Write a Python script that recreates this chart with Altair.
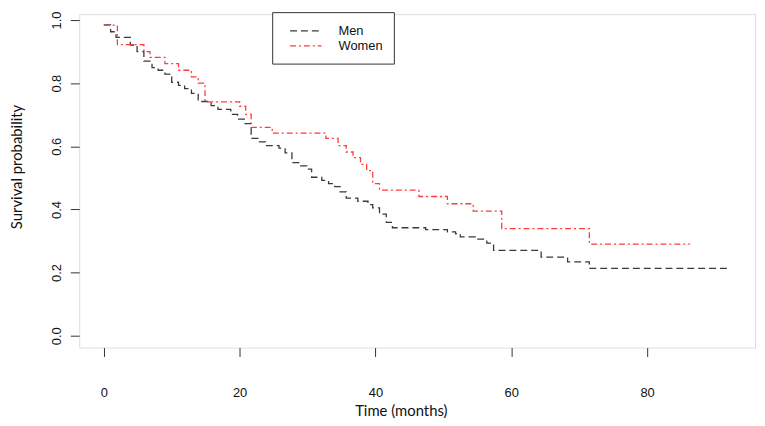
import altair as alt
import pandas as pd

# Kaplan-Meier step curves (time in months, survival probability)
men_time = [0, 1.0, 1.8, 3.9, 4.9, 5.9, 7.1, 8.0, 9.0, 10.0, 11.0, 11.9, 12.9, 13.9,
            15.8, 16.8, 18.7, 19.7, 20.7, 21.7, 22.7, 23.8, 25.8, 26.7, 27.7, 28.9,
            29.9, 30.6, 32.1, 33.1, 34.0, 34.8, 35.7, 37.4, 38.9, 39.6, 40.6, 41.6,
            42.5, 47.4, 50.6, 51.8, 52.5, 54.7, 56.4, 57.4, 64.4, 68.3, 71.5, 92.3]
men_surv = [0.985, 0.963, 0.945, 0.921, 0.900, 0.870, 0.849, 0.841, 0.829, 0.803, 0.793,
            0.783, 0.768, 0.742, 0.729, 0.717, 0.701, 0.686, 0.672, 0.625, 0.614, 0.602,
            0.594, 0.579, 0.548, 0.538, 0.528, 0.502, 0.492, 0.482, 0.472, 0.456, 0.436,
            0.426, 0.415, 0.405, 0.385, 0.359, 0.342, 0.336, 0.329, 0.323, 0.313, 0.306,
            0.293, 0.270, 0.249, 0.234, 0.213, 0.213]

women_time = [0, 2.0, 5.9, 6.8, 9.0, 11.0, 12.9, 13.9, 14.9, 20.0, 20.9, 21.7, 24.8,
              32.7, 34.5, 35.7, 36.7, 37.8, 38.7, 39.6, 40.6, 46.4, 50.6, 54.4, 58.6,
              71.5, 86.3]
women_surv = [0.984, 0.922, 0.900, 0.882, 0.862, 0.841, 0.820, 0.800, 0.741, 0.727,
              0.701, 0.660, 0.642, 0.625, 0.602, 0.582, 0.564, 0.543, 0.523, 0.482,
              0.461, 0.441, 0.418, 0.395, 0.339, 0.290, 0.290]

groups = ["Men", "Women"]
colors = ["#3a3a3a", "#ff3b3b"]
dashes = [[7, 4], [6, 3, 2, 3]]

x_ticks = [0, 20, 40, 60, 80]
y_ticks = [0.0, 0.2, 0.4, 0.6, 0.8, 1.0]

df = pd.concat([
    pd.DataFrame({"time": men_time, "surv": men_surv, "group": "Men", "order": range(len(men_time))}),
    pd.DataFrame({"time": women_time, "surv": women_surv, "group": "Women", "order": range(len(women_time))}),
])

legend = alt.Legend(
    title=None, orient="none", legendX=195, legendY=-2,
    strokeColor="#333333", fillColor="white", padding=11,
    symbolType="M-2.25,0H2.25", symbolSize=200, symbolStrokeWidth=1.3,
    symbolOffset=15, labelFont="Liberation Sans", labelFontSize=13,
    labelOffset=25, rowPadding=0, labelColor="#111111",
)

chart = alt.Chart(df).mark_line(interpolate="step-after", strokeWidth=1.3).encode(
    x=alt.X("time:Q",
            scale=alt.Scale(domain=[-3.62, 95.9], nice=False, zero=False),
            axis=alt.Axis(values=x_ticks, format="d", title="Time (months)",
                          grid=False, domain=False, ticks=True, tickSize=9,
                          tickColor="#333333", labelPadding=30, labelFontSize=13,
                          labelFont="Liberation Sans", labelColor="#111111",
                          titleFont="Lato", titleFontSize=15, titleFontWeight="normal",
                          titleColor="#111111", titleX=325, titleY=64,
                          titleAlign="center", titleBaseline="middle")),
    y=alt.Y("surv:Q",
            scale=alt.Scale(domain=[-0.0376, 1.0188], nice=False, zero=False),
            axis=alt.Axis(values=y_ticks, format=".1f", title="Survival probability",
                          grid=False, domain=False, ticks=True, tickSize=9,
                          tickColor="#333333", labelAngle=270, labelAlign="center",
                          labelBaseline="bottom", labelPadding=7, labelFontSize=13,
                          labelFont="Liberation Sans", labelColor="#111111",
                          titleFont="Lato", titleFontSize=15, titleFontWeight="normal",
                          titleColor="#111111", titleAngle=270, titleX=-63, titleY=154,
                          titleAlign="center", titleBaseline="middle")),
    color=alt.Color("group:N", scale=alt.Scale(domain=groups, range=colors), legend=legend),
    strokeDash=alt.StrokeDash("group:N", scale=alt.Scale(domain=groups, range=dashes), legend=legend),
    order="order:Q",
).properties(
    width=683, height=337,
    autosize=alt.AutoSizeParams(type="none"),
    padding={"left": 72, "top": 4, "right": 2, "bottom": 70},
).configure_view(
    stroke="#333333", strokeWidth=1.2
).configure(background="white")

chart.save("out.html", embed_options={"renderer": "svg", "actions": False})
